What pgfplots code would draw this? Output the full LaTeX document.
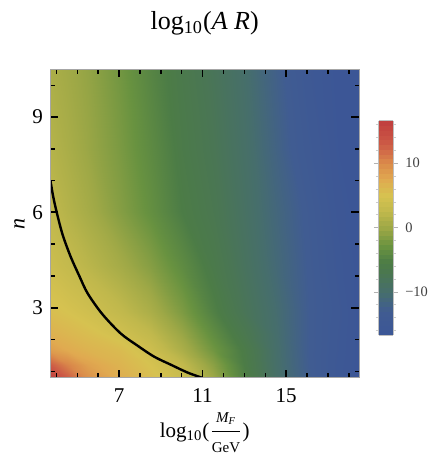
\documentclass[border=0pt]{standalone}
\usepackage{pgfplots}
\pgfplotsset{compat=1.18}
\usepackage{fontspec}
\setmainfont{Liberation Serif}

% log10(A R), rows of constant n
\pgfplotstableread{
x y f
3.7 0.8 16.4
4.5 0.8 13
5.5 0.8 9.5
7 0.8 7.2
8.5 0.8 5.5
10 0.8 3.5
11.5 0.8 0
13 0.8 -5
14.5 0.8 -9.5
16 0.8 -12.5
17.5 0.8 -15.5
18.5 0.8 -16.7
3.7 1.2 13
4.5 1.2 10.5
5.5 1.2 8.2
7 1.2 6.6
8.5 1.2 5
10 1.2 2.8
11.5 1.2 -1
13 1.2 -5.5
14.5 1.2 -9.7
16 1.2 -12.7
17.5 1.2 -15.5
18.5 1.2 -16.7
3.7 1.67 8.5
4.5 1.67 7.5
5.5 1.67 6.6
7 1.67 5.8
8.5 1.67 4
10 1.67 1
11.5 1.67 -2.5
13 1.67 -5.8
14.5 1.67 -9.8
16 1.67 -12.8
17.5 1.67 -15.3
18.5 1.67 -16.7
3.7 2.2 6.8
4.5 2.2 6.2
5.5 2.2 5.5
7 2.2 4.3
8.5 2.2 2.6
10 2.2 -0.3
11.5 2.2 -3.7
13 2.2 -6.8
14.5 2.2 -10
16 2.2 -12.8
17.5 2.2 -15.2
18.5 2.2 -16.7
3.7 2.85 5.5
4.5 2.85 5
5.5 2.85 4.2
7 2.85 2.8
8.5 2.85 1
10 2.85 -1.8
11.5 2.85 -5
13 2.85 -7.8
14.5 2.85 -10.2
16 2.85 -12.8
17.5 2.85 -15
18.5 2.85 -16.7
3.7 4.3 3.8
4.5 4.3 3.0
5.5 4.3 2.1
7 4.3 0.6
8.5 4.3 -1.3
10 4.3 -3.8
11.5 4.3 -6.2
13 4.3 -8.5
14.5 4.3 -10.8
16 4.3 -13
17.5 4.3 -15.5
18.5 4.3 -16.7
3.7 6 2.6
4.5 6 1.7
5.5 6 0.6
7 6 -1.3
8.5 6 -3.3
10 6 -5.5
11.5 6 -7
13 6 -9
14.5 6 -11.2
16 6 -13.3
17.5 6 -16
18.5 6 -16.7
3.7 8 1.7
4.5 8 0.9
5.5 8 -0.2
7 8 -1.9
8.5 8 -3.9
10 8 -6
11.5 8 -7.5
13 8 -9.4
14.5 8 -11.8
16 8 -14.2
17.5 8 -16.4
18.5 8 -16.7
3.7 10.5 1.0
4.5 10.5 0.3
5.5 10.5 -0.6
7 10.5 -2.4
8.5 10.5 -4.5
10 10.5 -6.4
11.5 10.5 -8
13 10.5 -9.8
14.5 10.5 -12.3
16 10.5 -15
17.5 10.5 -16.7
18.5 10.5 -16.7
}\fielddata

\begin{document}
\begin{tikzpicture}
\begin{axis}[
  name=ax,
  scale only axis, width=154.5pt, height=154pt,
  xmin=3.7, xmax=18.5, ymin=0.8, ymax=10.5,
  xtick={7,11,15}, minor xtick={4,5,6,8,9,10,12,13,14,16,17,18},
  ytick={3,6,9}, minor ytick={1,2,4,5,7,8,10},
  tick align=inside,
  major tick length=4pt, minor tick length=2.3pt,
  major tick style={black, line width=0.9pt},
  minor tick style={black, line width=0.7pt},
  axis line style={gray!70, line width=0.5pt},
  axis on top,
  ticklabel style={font=\fontsize{10.5}{12}\selectfont},
  xticklabel style={yshift=-2pt},
  /pgf/number format/assume math mode=true,
  title={log\textsubscript{10}(\textit{A R})},
  title style={font=\fontsize{13}{15}\selectfont, at={(0.5,1)}, anchor=base, yshift=14pt},
  xlabel={log\textsubscript{10}($\displaystyle\frac{\mbox{\fontsize{7.5}{9}\selectfont\itshape M\textsubscript{F}}}{\mbox{\fontsize{7.5}{9}\selectfont GeV}}$)},
  xlabel style={font=\fontsize{10.5}{12}\selectfont, yshift=2pt},
  ylabel={\textit{n}},
  ylabel style={font=\fontsize{11}{12}\selectfont, yshift=-3pt},
  colormap={darkrb}{
    rgb255(0pt)=(60,86,150)
    rgb255(3.7pt)=(64,92,146)
    rgb255(6.7pt)=(70,110,108)
    rgb255(9.2pt)=(74,118,84)
    rgb255(11.2pt)=(76,124,70)
    rgb255(13.7pt)=(104,146,64)
    rgb255(16.7pt)=(158,168,70)
    rgb255(19.2pt)=(192,184,76)
    rgb255(21.7pt)=(214,194,80)
    rgb255(24.2pt)=(224,170,80)
    rgb255(26.7pt)=(218,138,74)
    rgb255(29.7pt)=(204,90,70)
    rgb255(33.3pt)=(192,62,62)
  },
  point meta min=-16.7, point meta max=16.6,
  colorbar sampled,
  colorbar style={
    scale only axis,
    at={(parent axis.east)}, anchor=west, xshift=1.2pt, yshift=-2.2pt,
    width=7.2pt, height=107pt,
    samples=46,
    ytick={-10,0,10}, yticklabels={−10,0,10},
    minor ytick={-16,-14,-12,-8,-6,-4,-2,2,4,6,8,12,14,16},
    tick align=outside,
    major tick length=2.5pt, minor tick length=1.5pt,
    major tick style={gray!60, line width=0.4pt},
    minor tick style={gray!40, line width=0.3pt},
    axis line style={gray!50, line width=0.4pt},
    yticklabel style={font=\fontsize{7.2}{8}\selectfont, text=black!75},
  },
]
\addplot[surf, shader=interp, mesh/cols=12, point meta=explicit]
  table[x=x, y=y, meta=f] {\fielddata};
\addplot[black, line width=1.2pt, smooth] coordinates {
  (3.72,7.0) (3.85,6.5) (4.02,6.0) (4.3,5.3) (4.69,4.6) (5.1,4.0)
  (5.5,3.45) (6.2,2.8) (7.08,2.19) (7.9,1.8) (8.68,1.46) (9.5,1.2)
  (10.28,0.96) (11.0,0.79)
};
\end{axis}
\pgfresetboundingbox
\path[use as bounding box] ([xshift=-25pt,yshift=-39.65pt]ax.south west)
  rectangle ([xshift=38.5pt,yshift=34.65pt]ax.north east);
\end{tikzpicture}
\end{document}
